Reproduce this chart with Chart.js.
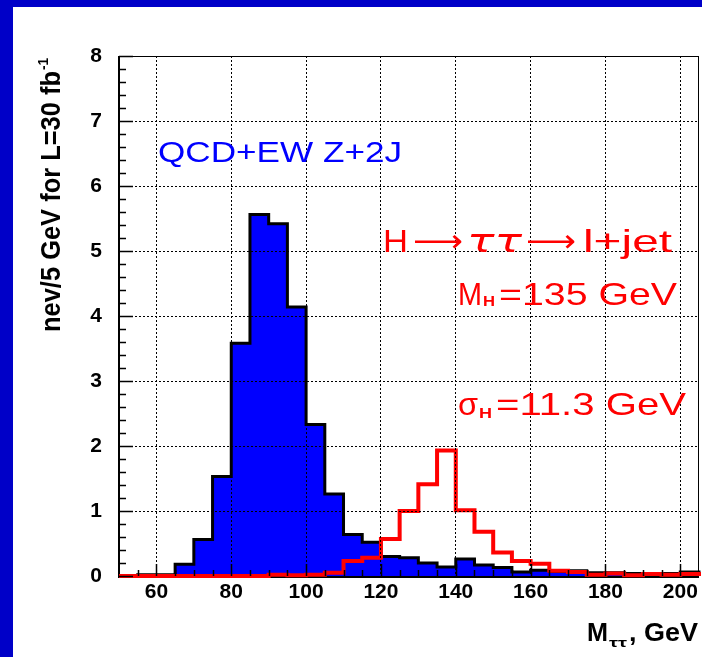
<!DOCTYPE html>
<html>
<head>
<meta charset="utf-8">
<title>M tau tau</title>
<script src="https://cdn.jsdelivr.net/npm/chart.js@4.4.0/dist/chart.umd.min.js"></script>
<style>
  html, body { margin: 0; padding: 0; background: #fff; }
  canvas { display: block; }
</style>
</head>
<body>
<canvas id="mtt" width="702" height="657"></canvas>
<script>
// low edges of the 5 GeV bins
const binEdges = [50, 55, 60, 65, 70, 75, 80, 85, 90, 95, 100, 105, 110, 115, 120, 125,
                  130, 135, 140, 145, 150, 155, 160, 165, 170, 175, 180, 185, 190, 195, 200];
const binWidth = 5;

// QCD+EW Z+2J background, nev / 5 GeV
const zBackground = [0, 0.02, 0.02, 0.18, 0.56, 1.53, 3.58, 5.56, 5.42, 4.14, 2.33, 1.26, 0.64, 0.52, 0.30, 0.28,
                     0.20, 0.14, 0.26, 0.17, 0.13, 0.06, 0.09, 0.07, 0.08, 0.05, 0.05, 0.04, 0.04, 0.04, 0.06];

// H -> tau tau -> l+jet, M_H = 135 GeV
const higgsSignal = [0, 0, 0, 0, 0, 0, 0, 0, 0.02, 0.01, 0.02, 0.05, 0.23, 0.28, 0.57, 1.00,
                     1.41, 1.93, 1.01, 0.68, 0.36, 0.23, 0.19, 0.08, 0.06, 0.02, 0.04, 0.01, 0.03, 0.02, 0.03];

const xTickValues = [60, 80, 100, 120, 140, 160, 180, 200];
const yTickValues = [0, 1, 2, 3, 4, 5, 6, 7, 8];

const FONT = '"Liberation Sans", Arial, Helvetica, sans-serif';

// step outline from bin edges, closed down to zero on both ends
function histPoints(values) {
    const pts = [{ x: binEdges[0], y: 0 }];
    binEdges.forEach((x, i) => pts.push({ x: x, y: values[i] }));
    const end = binEdges[binEdges.length - 1] + binWidth;
    pts.push({ x: end, y: values[values.length - 1] });
    pts.push({ x: end, y: 0 });
    return pts;
}

// draws a string squeezed/stretched between x0 and x1 on a baseline
function textFit(ctx, str, x0, x1, y, font, color) {
    ctx.save();
    ctx.font = font;
    ctx.fillStyle = color;
    ctx.textAlign = 'left';
    ctx.textBaseline = 'alphabetic';
    const w = ctx.measureText(str).width;
    ctx.translate(x0, y);
    ctx.scale((x1 - x0) / w, 1);
    ctx.fillText(str, 0, 0);
    ctx.restore();
}

const roomFrame = {
    id: 'roomFrame',
    beforeDraw(chart) {
        const ctx = chart.ctx;
        ctx.save();
        ctx.fillStyle = '#fff';
        ctx.fillRect(0, 0, chart.width, chart.height);
        ctx.fillStyle = '#0000c8';
        ctx.fillRect(0, 0, chart.width, 7);
        ctx.fillRect(0, 0, 13, chart.height);
        ctx.restore();
    },
    beforeDatasetsDraw(chart) {
        const { ctx, chartArea: a } = chart;
        ctx.save();
        ctx.strokeStyle = '#000';
        ctx.lineWidth = 1;
        ctx.strokeRect(a.left + 0.5, a.top + 0.5, a.right - a.left - 1, a.bottom - a.top);
        ctx.lineWidth = 2;
        ctx.beginPath();
        ctx.moveTo(a.left, a.top);
        ctx.lineTo(a.left, a.bottom + 1);
        ctx.lineTo(a.right, a.bottom + 1);
        ctx.stroke();
        ctx.restore();
    },
    afterDatasetsDraw(chart) {
        // ROOT style ticks, pointing into the frame
        const { ctx, chartArea: a, scales: { x, y } } = chart;
        ctx.save();
        ctx.strokeStyle = '#000';
        ctx.lineWidth = 1.5;
        ctx.beginPath();
        for (let i = 0; i <= 40; i++) {
            const py = Math.round(y.getPixelForValue(i * 0.2)) + 0.5;
            const len = i % 5 === 0 ? 14 : 7;
            ctx.moveTo(a.left, py);
            ctx.lineTo(a.left + len, py);
        }
        for (let v = 55; v < 205; v += 5) {
            const px = Math.round(x.getPixelForValue(v)) + 0.5;
            const len = (v - 60) % 20 === 0 ? 12 : 6;
            ctx.moveTo(px, a.bottom);
            ctx.lineTo(px, a.bottom - len);
        }
        ctx.stroke();
        ctx.restore();
    },
    afterDraw(chart) {
        const ctx = chart.ctx;
        const blue = '#0000ff';
        const red = '#ff0000';

        textFit(ctx, 'QCD+EW Z+2J', 158, 402, 162, '30px ' + FONT, blue);

        textFit(ctx, 'H', 383, 408, 252, '32px ' + FONT, red);
        textFit(ctx, '\u27F6', 413, 463, 252, '32px "DejaVu Sans"', red);
        textFit(ctx, '\u03C4\u03C4', 467, 522, 252, 'italic 32px "DejaVu Sans"', red);
        textFit(ctx, '\u27F6', 526, 576, 252, '32px "DejaVu Sans"', red);
        textFit(ctx, 'l+jet', 583, 672, 252, '32px ' + FONT, red);

        textFit(ctx, 'M', 458, 482, 305, '32px ' + FONT, red);
        textFit(ctx, 'H', 483, 495, 306, 'bold 15px ' + FONT, red);
        textFit(ctx, '=135 GeV', 499, 677, 305, '32px ' + FONT, red);

        textFit(ctx, '\u03C3', 458, 478, 415, '32px ' + FONT, red);
        textFit(ctx, 'H', 479, 492, 418, 'bold 15px ' + FONT, red);
        textFit(ctx, '=11.3 GeV', 496, 686, 415, '32px ' + FONT, red);

        // x axis title
        textFit(ctx, 'M', 587, 608, 641, 'bold 26px ' + FONT, '#000');
        textFit(ctx, '\u03C4\u03C4', 609, 627, 647, 'bold 13px ' + FONT, '#000');
        textFit(ctx, ', GeV', 629, 698, 641, 'bold 26px ' + FONT, '#000');

        // y axis title, reads bottom to top
        ctx.save();
        ctx.translate(60, 332);
        ctx.rotate(-Math.PI / 2);
        textFit(ctx, 'nev/5 GeV for L=30 fb', 0, 261, 0, 'bold 27px ' + FONT, '#000');
        textFit(ctx, '-1', 262, 274, -12, 'bold 15px ' + FONT, '#000');
        ctx.restore();
    }
};

const tickFont = { family: FONT, size: 21, weight: 'bold' };

new Chart(document.getElementById('mtt'), {
    type: 'line',
    data: {
        datasets: [
            {
                label: 'H \u2192 \u03C4\u03C4 \u2192 l+jet',
                data: histPoints(higgsSignal),
                stepped: true,
                borderColor: '#ff0000',
                borderWidth: 4,
                borderJoinStyle: 'miter',
                fill: false,
                pointRadius: 0,
                order: 0,
                clip: 4
            },
            {
                label: 'QCD+EW Z+2J',
                data: histPoints(zBackground),
                stepped: true,
                borderColor: '#000',
                borderWidth: 3,
                borderJoinStyle: 'miter',
                backgroundColor: '#0000ff',
                fill: 'origin',
                pointRadius: 0,
                order: 1,
                clip: 4
            }
        ]
    },
    options: {
        responsive: false,
        animation: false,
        events: [],
        layout: { padding: { top: 56, right: 3, left: 13, bottom: 0 }, autoPadding: false },
        plugins: { legend: { display: false }, tooltip: { enabled: false } },
        scales: {
            x: {
                type: 'linear',
                min: 50,
                max: 205,
                afterBuildTicks: axis => { axis.ticks = xTickValues.map(v => ({ value: v })); },
                afterFit: axis => { axis.height = 81; },
                grid: { color: '#000', lineWidth: 1, drawTicks: false, z: 1 },
                border: { display: false, dash: [2, 2] },
                ticks: { font: tickFont, color: '#000', padding: 4, maxRotation: 0, autoSkip: false }
            },
            y: {
                type: 'linear',
                min: 0,
                max: 8,
                afterBuildTicks: axis => { axis.ticks = yTickValues.map(v => ({ value: v })); },
                afterFit: axis => { axis.width = 106; },
                grid: {
                    color: c => (c.tick && c.tick.value === 0) ? 'rgba(0,0,0,0)' : '#000',
                    lineWidth: 1,
                    drawTicks: false,
                    z: 1
                },
                border: { display: false, dash: [2, 2] },
                ticks: { font: tickFont, color: '#000', padding: 17 }
            }
        }
    },
    plugins: [roomFrame]
});
</script>
</body>
</html>
